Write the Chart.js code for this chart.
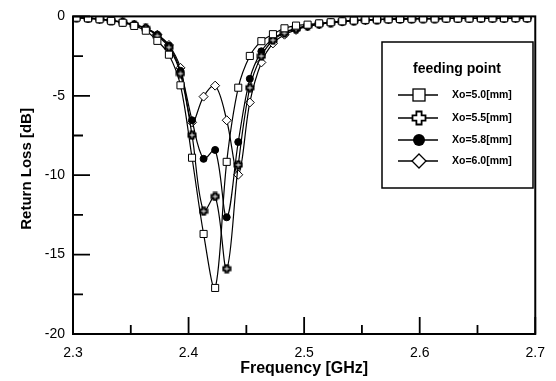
<!DOCTYPE html>
<html>
<head>
<meta charset="utf-8">
<script src="https://cdn.jsdelivr.net/npm/chart.js@4.4.0/dist/chart.umd.min.js"></script>
<style>
  html, body { margin: 0; padding: 0; background: #fff; }
</style>
</head>
<body>
<canvas id="rlChart" width="556" height="381"></canvas>
<script>
// frequency points [GHz]
const freq = [2.303, 2.313, 2.323, 2.333, 2.343, 2.353, 2.363, 2.373, 2.383, 2.393,
              2.403, 2.413, 2.423, 2.433, 2.443, 2.453, 2.463, 2.473, 2.483, 2.493,
              2.503, 2.513, 2.523, 2.533, 2.543, 2.553, 2.563, 2.573, 2.583, 2.593,
              2.603, 2.613, 2.623, 2.633, 2.643, 2.653, 2.663, 2.673, 2.683, 2.693];

// return loss [dB] for each feeding point
const xo50 = [-0.08, -0.12, -0.18, -0.28, -0.40, -0.60, -0.90, -1.54, -2.41, -4.34,
              -8.90, -13.70, -17.10, -9.16, -4.49, -2.49, -1.56, -1.12, -0.75, -0.58,
              -0.52, -0.44, -0.37, -0.31, -0.26, -0.22, -0.20, -0.18, -0.16, -0.15,
              -0.14, -0.14, -0.13, -0.13, -0.13, -0.12, -0.12, -0.12, -0.11, -0.11];
const xo55 = [-0.08, -0.12, -0.17, -0.26, -0.37, -0.53, -0.76, -1.22, -1.95, -3.60,
              -7.48, -12.27, -11.34, -15.89, -9.35, -4.49, -2.50, -1.50, -1.05, -0.78,
              -0.60, -0.48, -0.39, -0.32, -0.27, -0.23, -0.20, -0.18, -0.16, -0.15,
              -0.14, -0.14, -0.13, -0.13, -0.13, -0.12, -0.12, -0.12, -0.11, -0.11];
const xo58 = [-0.08, -0.12, -0.17, -0.26, -0.37, -0.53, -0.75, -1.17, -1.85, -3.43,
              -6.54, -8.97, -8.41, -12.65, -7.91, -3.93, -2.20, -1.40, -1.00, -0.76,
              -0.58, -0.47, -0.38, -0.32, -0.27, -0.23, -0.20, -0.18, -0.16, -0.15,
              -0.14, -0.14, -0.13, -0.13, -0.13, -0.12, -0.12, -0.12, -0.11, -0.11];
const xo60 = [-0.08, -0.12, -0.17, -0.25, -0.36, -0.52, -0.74, -1.15, -1.80, -3.24,
              -6.67, -5.05, -4.36, -6.54, -9.97, -5.42, -2.90, -1.70, -1.15, -0.85,
              -0.63, -0.50, -0.40, -0.33, -0.28, -0.24, -0.21, -0.18, -0.16, -0.15,
              -0.14, -0.14, -0.13, -0.13, -0.13, -0.12, -0.12, -0.12, -0.11, -0.11];

const seriesNames = ['Xo=5.0[mm]', 'Xo=5.5[mm]', 'Xo=5.8[mm]', 'Xo=6.0[mm]'];
const xTicks = [2.3, 2.4, 2.5, 2.6, 2.7];
const yTicks = [0, -5, -10, -15, -20];

const FONT = '"Liberation Sans", Arial, sans-serif';

// open "plus" shaped marker used for Xo=5.5
function plusMarker(s, lw) {
    const c = document.createElement('canvas');
    c.width = s + 3; c.height = s + 3;
    const g = c.getContext('2d');
    const h = s / 2, a = s / 5, o = (s + 3) / 2;
    const pts = [[-a,-h],[a,-h],[a,-a],[h,-a],[h,a],[a,a],[a,h],[-a,h],[-a,a],[-h,a],[-h,-a],[-a,-a]];
    g.beginPath();
    pts.forEach((p, i) => i ? g.lineTo(o + p[0], o + p[1]) : g.moveTo(o + p[0], o + p[1]));
    g.closePath();
    g.fillStyle = '#fff'; g.fill();
    g.lineWidth = lw; g.strokeStyle = '#000'; g.stroke();
    return c;
}

const pts = (ys) => freq.map((f, i) => ({ x: f, y: ys[i] }));

const lineBase = { borderColor: '#000', borderWidth: 1.2, tension: 0.35, fill: false };

// box, inward ticks
const frameTicks = {
    id: 'frameTicks',
    afterDraw(chart) {
        const { ctx, chartArea: a, scales: { x, y } } = chart;
        ctx.save();
        ctx.strokeStyle = '#000';
        ctx.lineWidth = 2;
        ctx.strokeRect(a.left, a.top, a.right - a.left, a.bottom - a.top);
        ctx.lineWidth = 1.8;
        ctx.beginPath();
        xTicks.forEach((v, i) => {
            const px = x.getPixelForValue(v);
            ctx.moveTo(px, a.bottom); ctx.lineTo(px, a.bottom - 17);
            if (i < xTicks.length - 1) {
                const pm = x.getPixelForValue((v + xTicks[i + 1]) / 2);
                ctx.moveTo(pm, a.bottom); ctx.lineTo(pm, a.bottom - 9);
            }
        });
        yTicks.forEach((v, i) => {
            const py = y.getPixelForValue(v);
            ctx.moveTo(a.left, py); ctx.lineTo(a.left + 17, py);
            if (i < yTicks.length - 1) {
                const pm = y.getPixelForValue((v + yTicks[i + 1]) / 2);
                ctx.moveTo(a.left, pm); ctx.lineTo(a.left + 10, pm);
            }
        });
        ctx.stroke();
        ctx.restore();
    }
};

// boxed legend with title
const boxLegend = {
    id: 'boxLegend',
    afterDraw(chart) {
        const ctx = chart.ctx;
        const ds = chart.data.datasets;
        ctx.save();
        ctx.fillStyle = '#fff';
        ctx.fillRect(382, 42, 151, 146);
        ctx.strokeStyle = '#000';
        ctx.lineWidth = 1.5;
        ctx.strokeRect(382, 42, 151, 146);
        ctx.fillStyle = '#000';
        ctx.textBaseline = 'middle';
        ctx.textAlign = 'center';
        ctx.font = 'bold 14px ' + FONT;
        ctx.fillText('feeding point', 457, 69);
        ctx.font = 'bold 10.5px ' + FONT;
        ctx.textAlign = 'left';
        const rows = [95, 118, 140, 161];
        rows.forEach((ry, i) => {
            ctx.lineWidth = 1.3;
            ctx.beginPath();
            ctx.moveTo(398, ry); ctx.lineTo(438, ry);
            ctx.stroke();
            const mx = 419;
            if (i === 0) {
                ctx.fillStyle = '#fff';
                ctx.fillRect(mx - 6, ry - 6, 12, 12);
                ctx.strokeRect(mx - 6, ry - 6, 12, 12);
            } else if (i === 1) {
                ctx.drawImage(legendPlus, mx - legendPlus.width / 2, ry - legendPlus.height / 2);
            } else if (i === 2) {
                ctx.fillStyle = '#000';
                ctx.beginPath(); ctx.arc(mx, ry, 6, 0, Math.PI * 2); ctx.fill();
            } else {
                ctx.fillStyle = '#fff';
                ctx.beginPath();
                ctx.moveTo(mx, ry - 7); ctx.lineTo(mx + 7, ry); ctx.lineTo(mx, ry + 7); ctx.lineTo(mx - 7, ry);
                ctx.closePath(); ctx.fill(); ctx.stroke();
            }
            ctx.fillStyle = '#000';
            ctx.fillText(ds[i].label, 452, ry);
        });
        ctx.restore();
    }
};

const plotPlus = plusMarker(7, 2);
const legendPlus = plusMarker(13, 1.8);

const ctx = document.getElementById('rlChart').getContext('2d');
new Chart(ctx, {
    type: 'line',
    data: {
        datasets: [
            { ...lineBase, label: seriesNames[0], data: pts(xo50),
              pointStyle: 'rect', pointRadius: 5, pointBackgroundColor: '#fff', pointBorderColor: '#000', pointBorderWidth: 1 },
            { ...lineBase, label: seriesNames[1], data: pts(xo55),
              pointStyle: plotPlus, pointRadius: 4 },
            { ...lineBase, label: seriesNames[2], data: pts(xo58),
              pointStyle: 'circle', pointRadius: 3.5, pointBackgroundColor: '#000', pointBorderColor: '#000', pointBorderWidth: 1 },
            { ...lineBase, label: seriesNames[3], data: pts(xo60),
              pointStyle: 'rectRot', pointRadius: 4.5, pointBackgroundColor: '#fff', pointBorderColor: '#000', pointBorderWidth: 1 }
        ]
    },
    options: {
        responsive: false,
        animation: false,
        layout: { padding: { top: 13, right: 11, left: 0, bottom: 0 } },
        plugins: {
            legend: { display: false },
            tooltip: { enabled: false }
        },
        scales: {
            x: {
                type: 'linear',
                min: 2.3,
                max: 2.7,
                afterFit: (s) => { s.height = 47; },
                afterBuildTicks: (s) => { s.ticks = xTicks.map(v => ({ value: v })); },
                grid: { display: false, drawTicks: false },
                border: { display: false },
                ticks: {
                    padding: 11,
                    color: '#000',
                    font: { family: FONT, size: 14 },
                    callback: (v) => Number(v).toFixed(1)
                },
                title: {
                    display: true,
                    text: 'Frequency [GHz]',
                    color: '#000',
                    font: { family: FONT, size: 16, weight: 'bold' },
                    padding: { top: 0, bottom: 3 }
                }
            },
            y: {
                min: -20,
                max: 0,
                afterFit: (s) => { s.width = 73; },
                afterBuildTicks: (s) => { s.ticks = yTicks.map(v => ({ value: v })); },
                grid: { display: false, drawTicks: false },
                border: { display: false },
                ticks: {
                    padding: 8,
                    color: '#000',
                    font: { family: FONT, size: 14 },
                    callback: (v) => String(v)
                },
                title: {
                    display: true,
                    text: '   Return Loss [dB]',
                    color: '#000',
                    font: { family: FONT, size: 15, weight: 'bold' },
                    padding: { top: 18, bottom: 0 }
                }
            }
        }
    },
    plugins: [frameTicks, boxLegend]
});
</script>
</body>
</html>
